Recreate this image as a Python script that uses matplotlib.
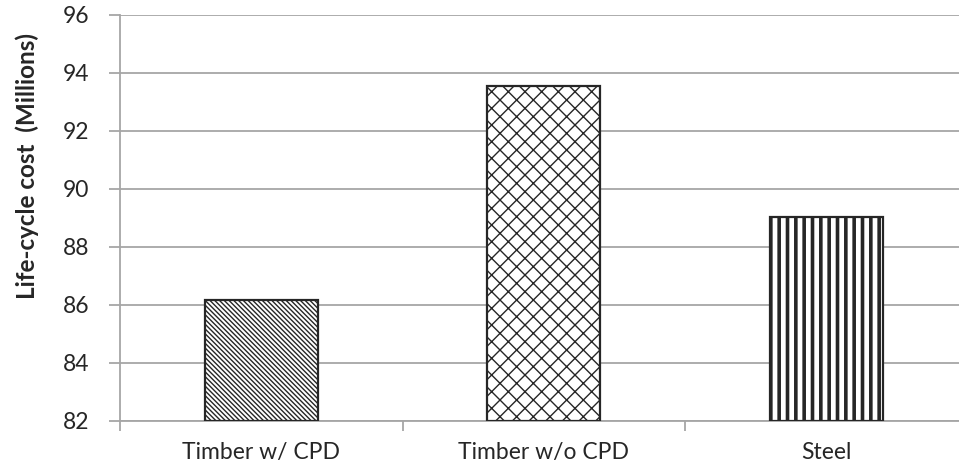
import matplotlib
matplotlib.use("Agg")
import matplotlib.pyplot as plt

categories = ["Timber w/ CPD", "Timber w/o CPD", "Steel"]
costs = [86.15, 93.53, 89.03]
hatches = ["\\\\\\\\\\\\\\", "xx", "||"]
hatch_widths = [1.0, 1.0, 2.6]

plt.rcParams['font.family'] = ['Lato', 'DejaVu Sans']

fig = plt.figure(figsize=(9.59, 4.69), dpi=100)
ax = fig.add_axes([120 / 959, 48.3 / 469, 847.5 / 959, 406 / 469])

grey = "#a6a6a6"
dark = "#262626"

for i, (c, v) in enumerate(zip(categories, costs)):
    with plt.rc_context({'hatch.linewidth': hatch_widths[i], 'hatch.color': dark}):
        ax.bar(i, v - 82, bottom=82, width=0.40, color="white",
               edgecolor=dark, linewidth=1.6, hatch=hatches[i], zorder=3)

ax.set_xlim(-0.5, 2.5)
ax.set_ylim(82, 96)
ax.set_yticks(range(82, 97, 2))
ax.yaxis.grid(True, color=grey, linewidth=1.3, zorder=0)
ax.set_axisbelow(True)

ax.set_xticks(range(len(categories)))
ax.set_xticklabels(categories)
ax.set_xticks([-0.5, 0.5, 1.5], minor=True)
ax.tick_params(axis='x', which='major', length=0, pad=15, labelsize=16.5, labelcolor=dark)
ax.tick_params(axis='x', which='minor', length=7, width=1.3, color=grey)
ax.tick_params(axis='y', length=8, width=1.3, color=grey, pad=14, labelsize=16.5, labelcolor=dark)

for s in ["top", "right"]:
    ax.spines[s].set_visible(False)
for s in ["left", "bottom"]:
    ax.spines[s].set_color(grey)
    ax.spines[s].set_linewidth(1.3)

ax.set_ylabel("Life-cycle cost  (Millions)", fontsize=17.5, fontweight="bold", color=dark)
ax.yaxis.set_label_coords(-0.096, 0.627)

fig.savefig("out.png", dpi=100)
